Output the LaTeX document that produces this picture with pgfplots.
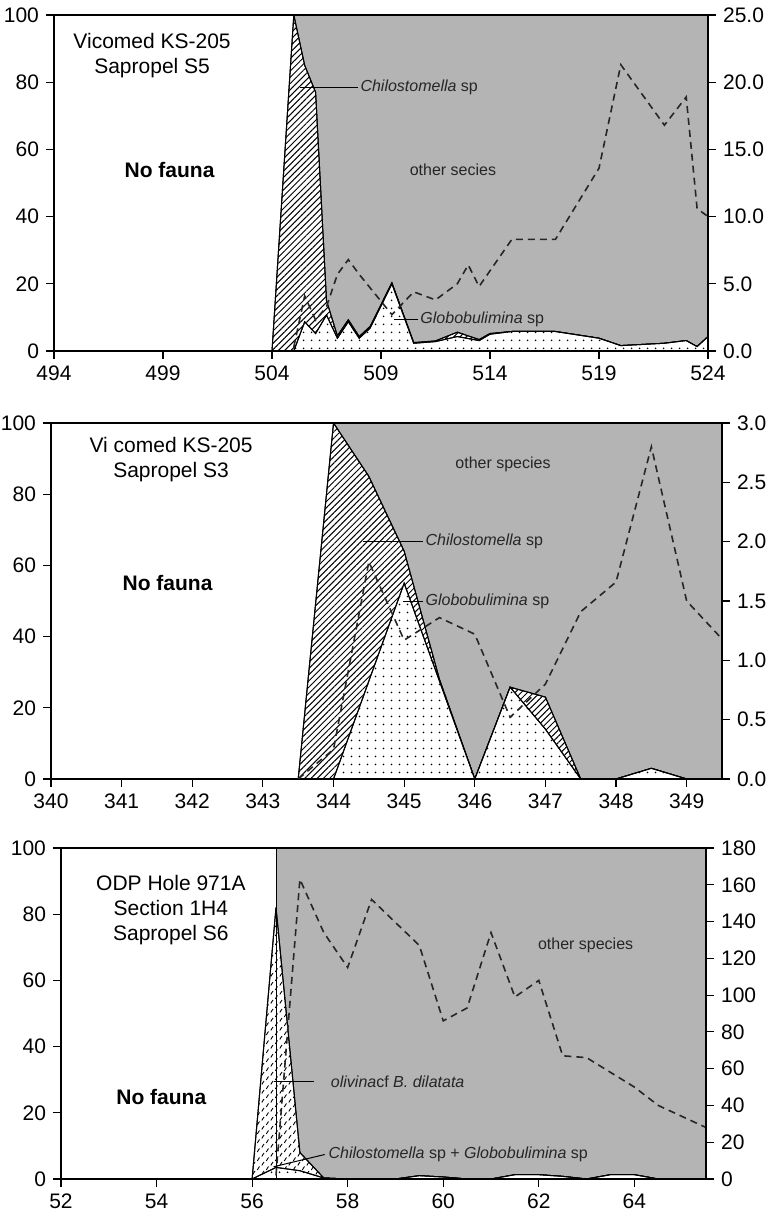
\documentclass[border=0pt]{standalone}
\usepackage{fontspec}
\setmainfont{Liberation Sans}
\usepackage{pgfplots}
\pgfplotsset{compat=1.18}
\usetikzlibrary{patterns.meta}

\definecolor{othergray}{RGB}{180,180,180}
\newcommand{\anno}{\fontsize{8}{9.5}\selectfont}
\newcommand{\lbl}{\fontsize{10.5}{12.5}\selectfont}

% short slanted dashes for the olivina field
\tikzdeclarepattern{
  name=slashdash,
  type=colored,
  bounding box={(-0.5pt,-0.5pt) and (5pt,5pt)},
  tile size={(4.5pt,4.5pt)},
  code={
    \draw[black, line width=0.45pt] (0.4pt,0.3pt) -- (1.5pt,2.0pt);
    \draw[black, line width=0.45pt] (2.65pt,2.55pt) -- (3.75pt,4.25pt);
  }
}

\pgfplotsset{
  panel/.style={scale only axis, axis on top, anchor=south west,
    tick align=outside, major tick length=4pt,
    every tick/.style={black, line width=0.6pt},
    axis line style={black, line width=0.9pt},
    tick label style={font=\lbl},
    /pgf/number format/assume math mode=true},
  leftax/.style={panel, xtick pos=left, ytick pos=left,
    ymin=0, ymax=100, ytick={0,20,...,100}},
  rightax/.style={panel, axis y line*=right, axis x line=none},
  other/.style={fill=othergray, draw=none},
  chil/.style={draw=black, line width=0.5pt, fill=white,
    postaction={pattern={Lines[angle=45,distance=2.2pt,line width=0.5pt]}}},
  glob/.style={draw=black, line width=0.5pt, fill=white,
    postaction={pattern={Dots[radius=0.5pt,distance=4pt]}}},
  oliv/.style={draw=black, line width=0.5pt, fill=white,
    postaction={pattern=slashdash}},
  dens/.style={black!85, line width=0.8pt, dash pattern=on 3.5pt off 2.5pt},
}

\begin{document}
\begin{tikzpicture}
\useasboundingbox (0,0) rectangle (385.5pt,610pt);

%% ---------- Sapropel S5 ----------
\begin{axis}[leftax, at={(27pt,434.5pt)}, width=327pt, height=168pt,
    xmin=494, xmax=524, xtick={494,499,...,524}]
\addplot[other] coordinates {(504,0)(505,100)(524,100)} \closedcycle;
\addplot[chil] coordinates {
(504,0)(505,100)(505.5,85)(506,77)(506.5,15)(507,4.5)(507.5,9.3)(508,4.3)
(508.5,7.3)(509.5,20.3)(510.5,2.5)(511.5,3.0)(512.5,5.6)(513.5,3.4)(514,5.2)
(515,5.8)(517,5.8)(519,3.8)(520,1.6)(522,2.3)(523,3.1)(523.5,1.3)(524,4.3)
} \closedcycle;
\addplot[glob] coordinates {
(504,0)(505,0)(505.5,8.7)(506,5.2)(506.5,10.7)(507,3.8)(507.5,8.7)(508,3.8)
(508.5,6.8)(509.5,20)(510.5,2.3)(511.5,2.8)(512.5,4.3)(513.5,3.1)(514,5)
(515,5.8)(517,5.8)(519,3.8)(520,1.6)(522,2.3)(523,3.1)(523.5,1.3)(524,4.3)
} \closedcycle;
\node[align=center, font=\lbl] at (axis cs:498.5,87.8) {Vicomed KS-205\\Sapropel S5};
\node[font=\lbl\bfseries] at (axis cs:499.3,53.9) {No fauna};
\node[font=\anno, text=black!85] at (axis cs:512.3,53.9) {other secies};
\draw[line width=0.5pt] (axis cs:505.3,78.5) -- (axis cs:507.95,78.5);
\node[anchor=west, font=\anno, text=black!85, inner sep=1pt] at (axis cs:507.95,78.5) {\textit{Chilostomella} sp};
\draw[line width=0.5pt] (axis cs:509.6,9.4) -- (axis cs:510.7,9.4);
\node[anchor=west, font=\anno, text=black!85, inner sep=1pt] at (axis cs:510.7,9.4) {\textit{Globobulimina} sp};
\end{axis}
\begin{axis}[rightax, at={(27pt,434.5pt)}, width=327pt, height=168pt,
    xmin=494, xmax=524, ymin=0, ymax=25, ytick={0,5,...,25},
    yticklabel style={/pgf/number format/.cd, fixed, fixed zerofill, precision=1}]
\addplot[dens] coordinates {
(505,0.3)(505.5,4.1)(506,2.3)(506.5,3.3)(507,5.7)(507.5,6.8)(508,5.7)(509.5,2.7)
(510.5,4.4)(511.5,3.8)(512.5,5.0)(513,6.4)(513.5,4.8)(515,8.3)(517,8.3)(519,13.6)
(520,21.3)(522,16.8)(523,18.9)(523.5,10.6)(524,10.0)
};
\end{axis}

%% ---------- Sapropel S3 ----------
\begin{axis}[leftax, at={(25.5pt,220.5pt)}, width=335.5pt, height=178pt,
    xmin=340, xmax=349.5, xtick={340,341,...,349}]
\addplot[other] coordinates {(343.5,0)(344,100)(349.5,100)} \closedcycle;
\addplot[chil] coordinates {
(343.5,0)(344,100)(344.5,85)(345,64)(345.5,28)(346,0)(346.5,25.8)(347,23)
(347.5,0)(348,0)(348.5,3)(349,0)(349.5,0)
} \closedcycle;
\addplot[glob] coordinates {
(343.5,0)(344,0)(345,55)(346,0)(346.5,25.8)(347,14)(347.5,0)(348,0)(348.5,3)
(349,0)(349.5,0)
} \closedcycle;
\node[align=center, font=\lbl] at (axis cs:341.7,89.6) {Vi comed KS-205\\Sapropel S3};
\node[font=\lbl\bfseries] at (axis cs:341.65,55) {No fauna};
\node[font=\anno, text=black!85] at (axis cs:346.4,88.5) {other species};
\draw[line width=0.5pt] (axis cs:344.42,66.7) -- (axis cs:345.27,66.7);
\node[anchor=west, font=\anno, text=black!85, inner sep=1pt] at (axis cs:345.27,66.7) {\textit{Chilostomella} sp};
\draw[line width=0.5pt] (axis cs:344.99,49.8) -- (axis cs:345.27,49.8);
\node[anchor=west, font=\anno, text=black!85, inner sep=1pt] at (axis cs:345.27,49.8) {\textit{Globobulimina} sp};
\end{axis}
\begin{axis}[rightax, at={(25.5pt,220.5pt)}, width=335.5pt, height=178pt,
    xmin=340, xmax=349.5, ymin=0, ymax=3, ytick={0,0.5,...,3},
    yticklabel style={/pgf/number format/.cd, fixed, fixed zerofill, precision=1}]
\addplot[dens] coordinates {
(343.5,0)(344,0.25)(344.5,1.83)(345,1.17)(345.5,1.36)(346,1.22)(346.5,0.52)
(347,0.8)(347.5,1.41)(348,1.66)(348.5,2.8)(349,1.5)(349.5,1.18)
};
\end{axis}

%% ---------- Sapropel S6 ----------
\begin{axis}[leftax, at={(30.5pt,20.5pt)}, width=322.5pt, height=165.5pt,
    xmin=52, xmax=65.5, xtick={52,54,...,64}]
\addplot[other] coordinates {(56.5,0)(56.5,100)(65.5,100)} \closedcycle;
\addplot[oliv] coordinates {
(56,0)(56.5,82)(57,8)(57.5,0.3)(58,0)(59,0)(59.5,1)(60,0.6)(60.5,0)(61,0)
(61.5,1.3)(62,1.3)(62.5,0.8)(63,0)(63.5,1.3)(64,1.3)(64.5,0)(65.5,0)
} \closedcycle;
\addplot[glob] coordinates {
(56,0)(56.5,3.5)(57,2.5)(57.5,0.3)(58,0)(59,0)(59.5,1)(60,0.6)(60.5,0)(61,0)
(61.5,1.3)(62,1.3)(62.5,0.8)(63,0)(63.5,1.3)(64,1.3)(64.5,0)(65.5,0)
} \closedcycle;
\addplot[black, line width=0.5pt] coordinates {(56.5,0)(56.5,100)};
\node[align=center, font=\lbl] at (axis cs:54.3,81.3) {ODP Hole 971A\\Section 1H4\\Sapropel S6};
\node[font=\lbl\bfseries] at (axis cs:54.1,24.8) {No fauna};
\node[font=\anno, text=black!85] at (axis cs:62.98,70.7) {other species};
\draw[line width=0.5pt] (axis cs:56.45,29.4) -- (axis cs:57.3,29.4);
\node[anchor=west, font=\anno, text=black!85, inner sep=1pt] at (axis cs:57.6,29.4) {\textit{olivina}cf \textit{B. dilatata}};
\draw[line width=0.5pt] (axis cs:56.45,3.7) -- (axis cs:57.52,7.4);
\node[anchor=west, font=\anno, text=black!85, inner sep=1pt] at (axis cs:57.55,7.4) {\textit{Chilostomella} sp + \textit{Globobulimina} sp};
\end{axis}
\begin{axis}[rightax, at={(30.5pt,20.5pt)}, width=322.5pt, height=165.5pt,
    xmin=52, xmax=65.5, ymin=0, ymax=180, ytick={0,20,...,180}]
\addplot[dens] coordinates {
(56.5,2)(57,163)(57.5,134)(58,115)(58.5,152)(59.5,127)(60,86)(60.5,93)(61,134)
(61.5,99)(62,108)(62.5,67)(63,66)(64,50)(64.5,40)(65.5,28)
};
\end{axis}
\end{tikzpicture}
\end{document}
